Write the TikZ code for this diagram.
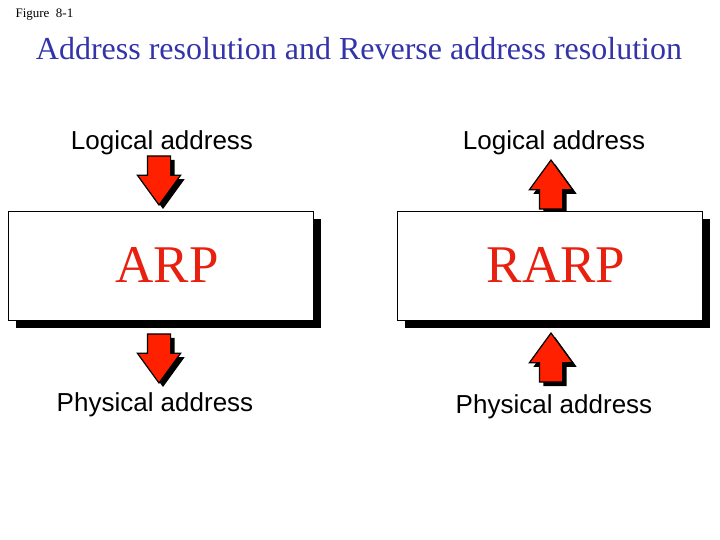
\documentclass[tikz,border=0pt]{standalone}
\usepackage{fontspec}
\setmainfont{Liberation Serif}
\newfontfamily\labelfont{Liberation Sans}
\usepackage{xcolor}
\definecolor{titleblue}{RGB}{51,51,170}
\definecolor{protored}{RGB}{232,32,16}
\definecolor{arrowred}{RGB}{255,32,0}
\usepackage{tikz}
\usetikzlibrary{
    shapes.arrows,
    shadows,
    positioning
}

\begin{document}
\begin{tikzpicture}[x=1pt, y=-1pt,
        protobox/.style={rectangle, draw=black, fill=white, line width=0.8pt, minimum width=305pt, minimum height=109pt, inner sep=0pt, text=protored, font=\fontsize{53}{53}\selectfont, drop shadow={shadow xshift=8pt, shadow yshift=-8pt, fill=black, opacity=1}},
        addr/.style={anchor=base, font=\labelfont\fontsize{26}{26}\selectfont},
        bigarrow/.style={single arrow, anchor=tip, draw=black, line width=1.2pt, fill=arrowred, inner sep=11pt, single arrow head extend=10pt, single arrow tip angle=72, minimum height=49pt, drop shadow={shadow xshift=4pt, shadow yshift=-4pt, fill=black, opacity=1}},
        pointdown/.style={bigarrow, shape border rotate=270},
        pointup/.style={bigarrow, shape border rotate=90}
    ]
        \useasboundingbox (0,0) rectangle (720,540);

        \node[anchor=base west, font=\fontsize{13}{13}\selectfont] (fig) at (12,18) {Figure\ \ 8-1};
        \node[anchor=base, text=titleblue, font=\fontsize{32}{32}\selectfont] (title) at (359,60) {Address resolution and Reverse address resolution};

        % ARP side
        \node[addr] (logleft) at (162,150) {Logical address};
        \node[pointdown] (inleft) at (159,206) {};
        \node[protobox] (arp) at (160.5,265.5) {\hspace*{13pt}ARP};
        \node[pointdown] (outleft) at (159,384) {};
        \node[addr] (physleft) at (155,411) {Physical address};

        % RARP side
        \node[addr] (logright) at (554,150) {Logical address};
        \node[pointup] (outright) at (551,159) {};
        \node[protobox] (rarp) at (549.5,265.5) {\hspace*{13pt}RARP};
        \node[pointup] (inright) at (551,332) {};
        \node[addr] (physright) at (554,413) {Physical address};
    \end{tikzpicture}
\end{document}
